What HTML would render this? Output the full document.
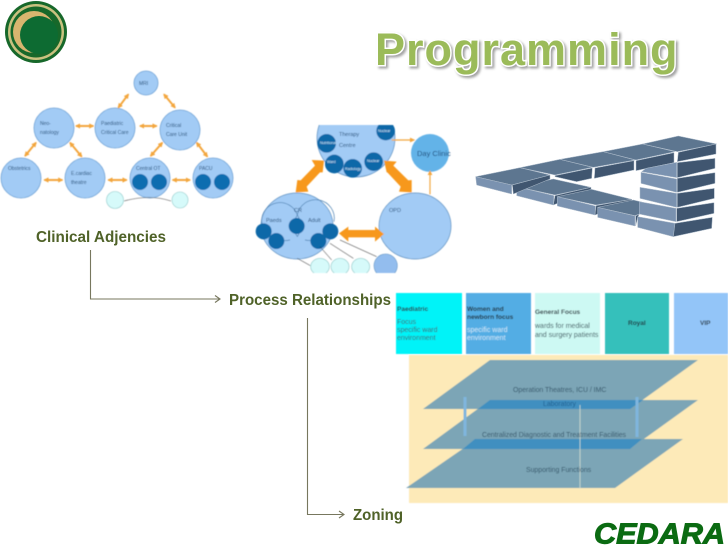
<!DOCTYPE html>
<html><head><meta charset="utf-8"><style>
html,body{margin:0;padding:0;background:#fff;width:728px;height:546px;overflow:hidden}
svg{display:block;font-family:"Liberation Sans",sans-serif}
</style></head><body>
<svg width="728" height="546" viewBox="0 0 728 546" xmlns="http://www.w3.org/2000/svg">
<defs>
<filter id="b" x="-5%" y="-5%" width="110%" height="110%"><feGaussianBlur stdDeviation="0.45"/></filter>
<filter id="sh" x="-5%" y="-20%" width="110%" height="140%"><feGaussianBlur stdDeviation="1.4"/></filter>
<clipPath id="c1"><rect x="240" y="125" width="220" height="148"/></clipPath>
<marker id="oh" viewBox="0 0 10 10" refX="8" refY="5" markerWidth="2.6" markerHeight="2.6" orient="auto-start-reverse"><path d="M0 0 L10 5 L0 10 Z" fill="#f3a63c"/></marker>
</defs>

<!-- logo -->
<circle cx="36" cy="32" r="31" fill="#17682a"/>
<circle cx="36" cy="32" r="28" fill="#c9c17f"/>
<circle cx="36" cy="32" r="25.5" fill="#17682a"/>
<circle cx="34" cy="32" r="21" fill="#d8b56f"/>
<circle cx="39" cy="35" r="19" fill="#0d6b32"/>

<!-- title -->
<text x="377" y="67" font-size="45" font-weight="bold" letter-spacing="1" fill="#555" stroke="#555" stroke-width="3" opacity=".55" filter="url(#sh)">Programming</text>
<text x="375" y="65" font-size="45" font-weight="bold" letter-spacing="1" fill="#9bbb59" stroke="#fff" stroke-width="3" paint-order="stroke">Programming</text>

<!-- clinical diagram -->
<g filter="url(#b)">
<g fill="#a2cbf5" stroke="#6fa3d6" stroke-width=".8">
<circle cx="146" cy="83" r="12"/>
<circle cx="115" cy="128" r="20"/><circle cx="180" cy="130" r="20"/><circle cx="54" cy="128" r="20"/>
<circle cx="21" cy="178" r="20"/><circle cx="85" cy="178" r="20"/><circle cx="150" cy="178" r="20"/><circle cx="213" cy="178" r="20"/>
</g>
<g transform="translate(0 60) scale(.33333)" stroke="#f3a63c" stroke-width="6" fill="none">
<path d="M385 103 L355 143" marker-start="url(#oh)" marker-end="url(#oh)"/>
<path d="M492 103 L525 143" marker-start="url(#oh)" marker-end="url(#oh)"/>
<path d="M228 198 L280 198" marker-start="url(#oh)" marker-end="url(#oh)"/>
<path d="M420 198 L470 198" marker-start="url(#oh)" marker-end="url(#oh)"/>
<path d="M108 248 L75 288" marker-start="url(#oh)" marker-end="url(#oh)"/>
<path d="M210 248 L245 290" marker-start="url(#oh)" marker-end="url(#oh)"/>
<path d="M487 248 L452 288" marker-start="url(#oh)" marker-end="url(#oh)"/>
<path d="M590 248 L622 290" marker-start="url(#oh)" marker-end="url(#oh)"/>
<path d="M133 360 L187 360" marker-start="url(#oh)" marker-end="url(#oh)"/>
<path d="M325 360 L380 360" marker-start="url(#oh)" marker-end="url(#oh)"/>
<path d="M518 360 L570 360" marker-start="url(#oh)" marker-end="url(#oh)"/>
</g>
<g fill="#0a6db0">
<circle cx="140" cy="182" r="8"/><circle cx="159" cy="182" r="8"/><circle cx="203" cy="182" r="8"/><circle cx="222" cy="182" r="8"/>
</g>
<g fill="#d6fafa" stroke="#8cc8c8" stroke-width=".6">
<circle cx="115" cy="200" r="8.5"/><circle cx="180" cy="200" r="8"/>
</g>
<path d="M124 201 Q150 194 171 201" fill="none" stroke="#555" stroke-width=".6"/>
<g font-size="5" fill="#24507a">
<text x="139" y="85">MRI</text>
<text x="101" y="125">Paediatric</text><text x="101" y="134">Critical Care</text>
<text x="166" y="127">Critical</text><text x="166" y="136">Care Unit</text>
<text x="40" y="125">Neo-</text><text x="40" y="134">natology</text>
<text x="8" y="170">Obstetrics</text>
<text x="71" y="175">E.cardiac</text><text x="71" y="184">theatre</text>
<text x="136" y="170">Central OT</text>
<text x="199" y="170">PACU</text>
</g>
</g>
<text x="36" y="242" font-size="16" font-weight="bold" fill="#4f6228" textLength="130" lengthAdjust="spacingAndGlyphs">Clinical Adjencies</text>

<!-- process diagram -->
<g filter="url(#b)">
<g clip-path="url(#c1)">
<ellipse cx="356" cy="138" rx="39" ry="39" fill="#a2cbf5" stroke="#5a8fc0" stroke-width=".7"/>
<circle cx="430" cy="153" r="19" fill="#63b3e8"/>
<ellipse cx="297" cy="226" rx="36" ry="33" fill="#a2cbf5" stroke="#5a8fc0" stroke-width=".7"/>
<ellipse cx="415" cy="226" rx="36" ry="33" fill="#a2cbf5" stroke="#5a8fc0" stroke-width=".7"/>
<g transform="translate(240 115) scale(.33333)">
<path d="M65 320 A55 55 0 0 1 172 300 A55 55 0 0 1 282 320" fill="none" stroke="#4a7fb0" stroke-width="2"/>
<path d="M65 320 A70 70 0 0 0 150 375 M172 300 A60 60 0 0 1 172 365 M172 300 A60 60 0 0 0 172 365 M195 375 A70 70 0 0 0 270 340" fill="none" stroke="#4a7fb0" stroke-width="2"/>
<g fill="#f7981d">
<polygon points="252,137 215,135 225,152 182,196 172,195 167,232 205,230 200,215 240,172 248,172"/>
<polygon points="432,137 470,140 460,152 505,196 515,195 515,232 477,230 482,215 442,172 440,172"/>
<polygon points="297,355 325,335 325,345 405,345 405,335 432,357 405,380 405,367 325,367 325,380"/>
</g>
<path d="M455 75 H520 M570 238 V175" stroke="#f3a63c" stroke-width="3.5" fill="none"/>
<path d="M510 68 L526 75 L510 82Z M563 180 L570 165 L577 180Z" fill="#f3a63c"/>
<g fill="#0a68a8">
<circle cx="260" cy="85" r="28"/><circle cx="283" cy="147" r="28"/><circle cx="338" cy="160" r="28"/><circle cx="401" cy="140" r="28"/><circle cx="437" cy="48" r="28"/>
<circle cx="71" cy="349" r="24"/><circle cx="109" cy="378" r="24"/><circle cx="170" cy="333" r="24"/><circle cx="235" cy="378" r="24"/><circle cx="271" cy="349" r="24"/>
</g>
<path d="M172 430 L213 453 M240 395 L275 435 M270 385 L340 430 M300 375 L410 425" stroke="#222" stroke-width="1.5" fill="none"/>
<g fill="#d6fafa" stroke="#7fc0c0" stroke-width="1.6">
<ellipse cx="240" cy="455" rx="28" ry="25"/><ellipse cx="300" cy="455" rx="27" ry="25"/><ellipse cx="362" cy="455" rx="27" ry="25"/>
</g>
<circle cx="437" cy="452" r="35" fill="#93bdee" stroke="#5a8fc0" stroke-width="1.6"/>
</g>
<g font-size="3.6" fill="#e8f4ff">
<text x="320" y="144">Nutritional</text><text x="327" y="163">Ward</text><text x="345" y="170">Radiology</text><text x="367" y="162">Nuclear</text><text x="378" y="132">Nuclear</text>
</g>
<g font-size="5.5" fill="#24507a">
<text x="339" y="136">Therapy</text>
<text x="339" y="147">Centre</text>
<text x="417" y="156" font-size="7.5" fill="#1a4a7a">Day Clinic</text>
<text x="294" y="212">CR</text>
<text x="266" y="222">Paeds</text><text x="308" y="222">Adult</text>
<text x="389" y="212">OPD</text>
</g>
</g>
</g>

<!-- bricks -->
<g filter="url(#b)" transform="translate(460 130) scale(.33333)" stroke="#aebccb" stroke-width="1.5" stroke-linejoin="round">
<g>
<!-- bottom row -->
<polygon points="170,170 280,147 393,172 285,195" fill="#5d7690"/>
<polygon points="170,170 282,197 280,225 170,197" fill="#7a92b0"/>
<polygon points="285,197 393,172 393,180 280,225" fill="#3f566f"/>
<polygon points="292,200 395,178 515,208 408,225" fill="#5d7690"/>
<polygon points="292,200 406,228 405,255 292,228" fill="#7a92b0"/>
<polygon points="408,227 515,208 515,215 405,255" fill="#3f566f"/>
<polygon points="413,232 520,210 545,216 538,252 525,257" fill="#5d7690"/>
<polygon points="413,232 525,258 525,288 413,262" fill="#7a92b0"/>
<polygon points="527,258 538,252 533,262 527,288" fill="#3f566f"/>
<!-- top row -->
<polygon points="47,140 180,113 270,135 155,165" fill="#5d7690"/>
<polygon points="47,140 155,165 155,192 50,165" fill="#7a92b0"/>
<polygon points="157,165 270,135 270,147 160,192" fill="#3f566f"/>
<polygon points="180,113 300,88 397,112 285,135" fill="#5d7690"/>
<polygon points="285,137 397,114 395,145 350,155 285,140" fill="#3f566f"/>
<polygon points="300,88 430,65 525,90 400,112" fill="#5d7690"/>
<polygon points="405,114 522,92 522,120 403,145" fill="#3f566f"/>
<polygon points="430,65 548,42 645,65 528,90" fill="#5d7690"/>
<polygon points="528,92 642,68 642,98 528,122" fill="#3f566f"/>
<polygon points="548,42 655,18 770,42 652,65" fill="#5d7690"/>
<polygon points="655,67 768,42 768,72 652,95" fill="#3f566f"/>
<!-- right stack -->
<polygon points="558,115 650,97 650,143 545,125" fill="#7a92b0"/>
<polygon points="652,98 765,85 765,115 652,143" fill="#3f566f"/>
<polygon points="543,127 650,147 650,187 543,160" fill="#7a92b0"/>
<polygon points="652,145 765,128 765,160 652,187" fill="#3f566f"/>
<polygon points="540,172 650,190 650,232 540,205" fill="#7a92b0"/>
<polygon points="652,190 763,175 763,205 652,232" fill="#3f566f"/>
<polygon points="538,215 648,235 648,275 538,252" fill="#7a92b0"/>
<polygon points="650,235 762,218 762,250 650,275" fill="#3f566f"/>
<polygon points="533,260 645,280 640,320 533,292" fill="#7a92b0"/>
<polygon points="645,280 757,262 755,295 640,320" fill="#3f566f"/>
</g>
</g>

<!-- connectors -->
<g fill="none" stroke="#77775e" stroke-width="1.1">
<path d="M90.5 250 V299 H220"/>
<path d="M215 295.5 L220 299 L215 302.5"/>
<path d="M307.5 318 V514.5 H344"/>
<path d="M339 511 L344 514.5 L339 518"/>
</g>
<text x="229" y="305" font-size="16" font-weight="bold" fill="#4f6228" textLength="162" lengthAdjust="spacingAndGlyphs">Process Relationships</text>
<text x="353" y="520" font-size="16" font-weight="bold" fill="#4f6228" textLength="50" lengthAdjust="spacingAndGlyphs">Zoning</text>

<!-- zoning -->
<g filter="url(#b)">
<rect x="396" y="293" width="66" height="61" fill="#00f3f8"/>
<rect x="466" y="293" width="65" height="61" fill="#52ade4"/>
<rect x="535" y="293" width="65" height="61" fill="#cdf9f3"/>
<rect x="605" y="293" width="64" height="61" fill="#35c0bb"/>
<rect x="674" y="293" width="54" height="61" fill="#93c5f8"/>
<rect x="409" y="355" width="319" height="148" fill="#fdeab8"/>
<polygon points="490,360 698,360 630,409 423,409" fill="#7ba5b6"/>
<polygon points="490,400 698,400 630,449 423,449" fill="#7ba5b6"/>
<polygon points="477,439 683,439 615,488 406,488" fill="#7ba5b6"/>
<polygon points="490,400 643,400 630,409 478,409" fill="#3f8fc0"/>
<polygon points="475,439 642,439 630,449 463,449" fill="#3f8fc0"/>
<path d="M580 405 V489" stroke="#dfe6d8" stroke-width="1" opacity=".7"/>
<path d="M465 397 V436M637 397 V437" stroke="#7fb6de" stroke-width="3"/>
<g font-size="7" fill="#24303a">
<text x="397" y="311" font-weight="bold" font-size="6.5">Paediatric</text>
<text x="397" y="324" fill="#35606a">Focus</text>
<text x="397" y="332" fill="#35606a">specific ward</text>
<text x="397" y="340" fill="#35606a">environment</text>
<text x="467" y="311" font-weight="bold" font-size="6.5">Women and</text>
<text x="467" y="319" font-weight="bold" font-size="6.5">newborn focus</text>
<text x="467" y="332" fill="#cfe8f8">specific ward</text>
<text x="467" y="340" fill="#cfe8f8">environment</text>
<text x="535" y="314" font-weight="bold" font-size="6.5">General Focus</text>
<text x="535" y="328" fill="#35505a">wards for medical</text>
<text x="535" y="337" fill="#35505a">and surgery patients</text>
<text x="628" y="325" font-weight="bold" font-size="6.5">Royal</text>
<text x="700" y="325" font-weight="bold" font-size="6.5">VIP</text>
<g fill="#35566a" font-size="6.9">
<text x="513" y="392">Operation Theatres, ICU / IMC</text>
<text x="543" y="406" fill="#1f5f90">Laboratory</text>
<text x="482" y="437">Centralized Diagnostic and Treatment Facilities</text>
<text x="526" y="472">Supporting Functions</text>
</g>
</g>
</g>

<!-- cedara -->
<text x="594" y="543.5" font-size="29" font-weight="bold" font-style="italic" fill="#0b6b12" stroke="#0b6b12" stroke-width="1" textLength="131" lengthAdjust="spacingAndGlyphs">CEDARA</text>
</svg>
</body></html>
